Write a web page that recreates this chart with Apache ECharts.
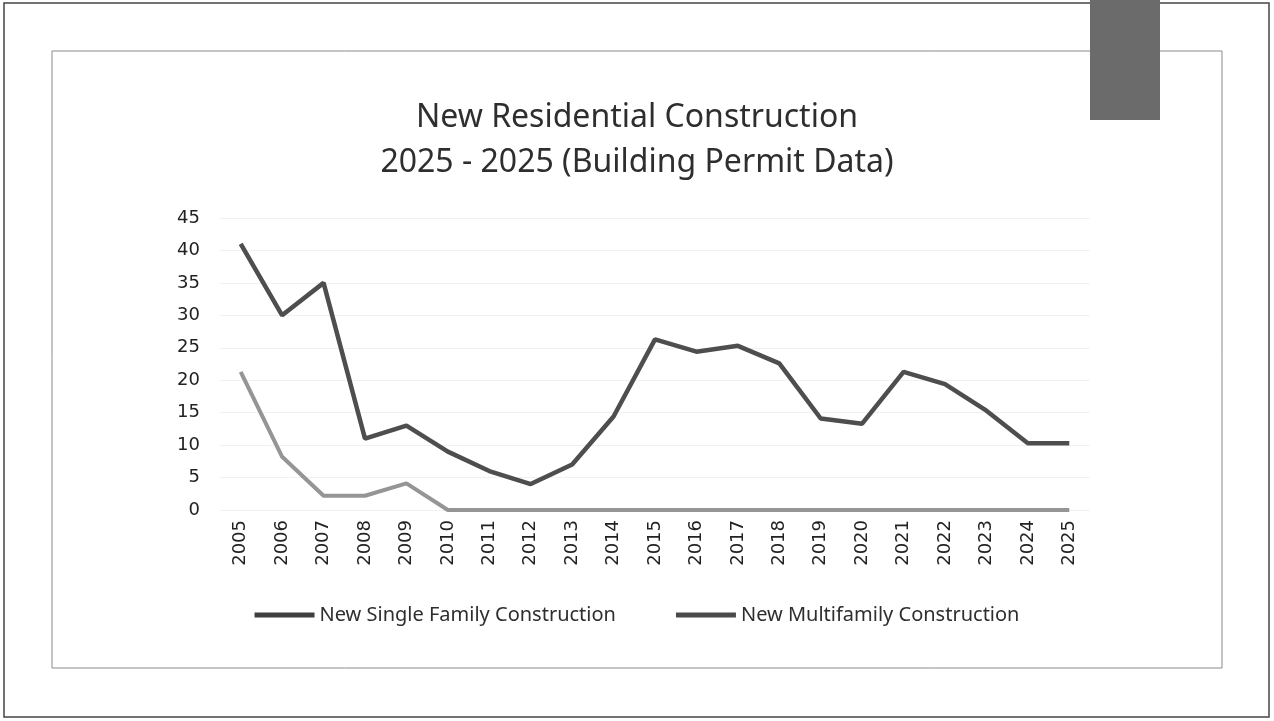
<!DOCTYPE html>
<html>
<head>
<meta charset="utf-8">
<script src="https://cdn.jsdelivr.net/npm/echarts@6/dist/echarts.min.js"></script>
<style>
  html, body { margin: 0; padding: 0; background: #fff; }
  #chart { width: 1274px; height: 721px; }
</style>
</head>
<body>
<div id="chart"></div>
<script>
// 年份
const years = ['2005', '2006', '2007', '2008', '2009', '2010', '2011', '2012', '2013', '2014',
  '2015', '2016', '2017', '2018', '2019', '2020', '2021', '2022', '2023', '2024', '2025']
const singleFamily = [41, 30, 35, 11, 13, 9, 6, 4, 7, 14.4, 26.3, 24.4, 25.3, 22.6, 14.1, 13.3, 21.3, 19.4, 15.3, 10.3, 10.3]
const multiFamily = [21.3, 8.2, 2.2, 2.2, 4.1, 0, 0, 0, 0, 0, 0, 0, 0, 0, 0, 0, 0, 0, 0, 0, 0]
const yTicks = [0, 5, 10, 15, 20, 25, 30, 35, 40, 45]

const labelColor = '#222'

const option = {
  animation: false,
  backgroundColor: '#fff',
  title: {
    text: 'New Residential Construction\n2025 - 2025 (Building Permit Data)',
    left: 'center',
    top: 90,
    textStyle: {
      fontFamily: 'Noto Sans',
      fontWeight: 'normal',
      fontSize: 32,
      lineHeight: 45,
      color: '#2e2e2e'
    }
  },
  graphic: [
    {
      type: 'rect',
      shape: { x: 4, y: 3, width: 1265, height: 714 },
      style: { fill: 'none', stroke: '#444', lineWidth: 1.5 }
    },
    {
      type: 'rect',
      shape: { x: 52, y: 51, width: 1170, height: 617 },
      style: { fill: 'none', stroke: '#8a8a8a', lineWidth: 1 }
    },
    {
      type: 'rect',
      shape: { x: 1090, y: 0, width: 70, height: 120 },
      style: { fill: '#6b6b6b' }
    }
  ],
  legend: {
    data: ['New Single Family Construction', 'New Multifamily Construction'],
    left: 'center',
    top: 600,
    icon: 'rect',
    itemWidth: 60,
    itemHeight: 5,
    itemGap: 60,
    textStyle: {
      fontFamily: 'Noto Sans',
      fontSize: 20,
      color: '#2e2e2e'
    }
  },
  grid: {
    left: 220,
    top: 218,
    width: 870,
    height: 292
  },
  xAxis: {
    type: 'category',
    data: years,
    boundaryGap: true,
    axisLine: { show: false },
    axisTick: { show: false },
    axisLabel: {
      rotate: 90,
      margin: 10,
      color: labelColor,
      fontFamily: 'DejaVu Sans',
      fontSize: 18
    }
  },
  yAxis: {
    type: 'value',
    min: yTicks[0],
    max: yTicks[yTicks.length - 1],
    interval: 5,
    axisLine: { show: false },
    axisTick: { show: false },
    splitLine: { lineStyle: { color: '#f1f1f1', width: 1 } },
    axisLabel: {
      margin: 20,
      color: labelColor,
      fontFamily: 'DejaVu Sans',
      fontSize: 18
    }
  },
  series: [
    {
      name: 'New Single Family Construction',
      type: 'line',
      data: singleFamily,
      symbol: 'none',
      itemStyle: { color: '#3f3f3f' },
      lineStyle: { color: '#4e4e4e', width: 4.5 }
    },
    {
      name: 'New Multifamily Construction',
      type: 'line',
      data: multiFamily,
      symbol: 'none',
      itemStyle: { color: '#4a4a4a' },
      lineStyle: { color: '#959595', width: 4 }
    }
  ]
}

const myChart = echarts.init(document.getElementById('chart'))
myChart.setOption(option)
</script>
</body>
</html>
